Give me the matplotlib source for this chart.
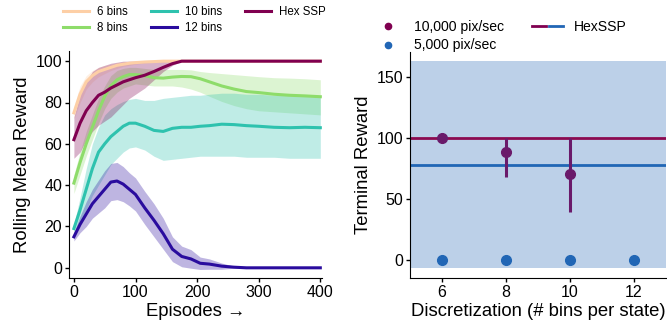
import numpy as np
import matplotlib
matplotlib.use('Agg')
import matplotlib.pyplot as plt
from matplotlib.lines import Line2D
from matplotlib.legend_handler import HandlerTuple

plt.rcParams['font.family'] = ['Liberation Sans', 'DejaVu Sans']

episodes = [0, 10, 20, 30, 40, 50, 60, 70, 80, 90, 100, 115, 130, 145, 160, 175,
            190, 205, 220, 240, 260, 280, 300, 325, 350, 375, 400]

# 6 bins
bins6_mean = [75, 84, 90, 93, 95, 96, 97, 98, 98.5, 99, 99.3, 99.6, 99.8, 100, 100, 100,
              100, 100, 100, 100, 100, 100, 100, 100, 100, 100, 100]
bins6_lo = [72, 80, 86.5, 90, 92.5, 94, 95.5, 96.5, 97.5, 98, 98.6, 99.1, 99.5, 99.8, 100, 100,
            100, 100, 100, 100, 100, 100, 100, 100, 100, 100, 100]
bins6_hi = [78, 88, 93, 95.5, 97, 98, 98.5, 99.3, 99.6, 100, 100, 100, 100, 100, 100, 100,
            100, 100, 100, 100, 100, 100, 100, 100, 100, 100, 100]

# 8 bins
bins8_mean = [41, 51, 60, 68, 76, 83, 88, 91, 92.5, 93.5, 93.5, 93, 92, 91.8, 92.3, 92.6,
              92.5, 91.5, 90, 88, 86.5, 85.3, 84.8, 84, 83.5, 83.2, 82.8]
bins8_lo = [36, 45, 54, 62, 70, 77, 82, 85, 87, 88, 89, 88.5, 88, 88, 88, 87.5,
            86.5, 85, 83, 80.5, 78.5, 77, 76, 75.5, 75, 74.5, 74]
bins8_hi = [45, 56, 66, 74, 82, 88, 93, 95.5, 96.5, 97, 97, 96.5, 96, 96, 96, 96,
            95.8, 95, 94.5, 94, 93.5, 93, 92.5, 92, 91.8, 91.5, 91]

# 10 bins
bins10_mean = [19, 28, 38, 48, 56, 60, 63.5, 66, 68.5, 70, 70, 68.5, 66.5, 66, 67.5, 68,
               68, 68.5, 68.8, 69.5, 69.3, 68.8, 68.5, 68, 67.8, 68, 67.8]
bins10_lo = [17, 22, 28, 35, 40, 45, 50, 53, 56, 58, 58.5, 57, 54, 52, 52.5, 53,
             53.5, 54, 54, 54, 54, 53.5, 53.5, 53.5, 53, 53, 53]
bins10_hi = [21, 34, 48, 60, 68, 74, 77, 79, 80.5, 81.5, 82, 81, 81, 82, 82.5, 83,
             83.5, 83.5, 84, 84.5, 84.5, 84, 84, 83.5, 83.5, 83, 83]

# 12 bins
bins12_mean = [15, 21, 26, 31, 34.5, 38, 41.5, 42, 40.5, 38, 35.5, 29, 23, 16.5, 9, 5.5,
               4.3, 2.2, 1.8, 0.8, 0.3, 0, 0, 0, 0, 0, 0]
bins12_sd = [2, 4, 6, 7, 8, 9, 9, 9, 8.5, 8, 8, 8, 8, 7.5, 6, 5,
             4.5, 3, 2.5, 1.5, 0.5, 0.2, 0, 0, 0, 0, 0]

# Hex SSP
hex_mean = [62, 70, 76, 80, 83.5, 85, 87, 88.5, 90, 91, 92, 93.2, 95, 97, 98.8, 100,
            100, 100, 100, 100, 100, 100, 100, 100, 100, 100, 100]
hex_lo = [53, 56, 62, 66, 69, 71, 73, 76, 79, 82, 84, 87, 91, 95, 98, 100,
          100, 100, 100, 100, 100, 100, 100, 100, 100, 100, 100]
hex_hi = [73, 84, 90, 95, 97, 98, 99, 99.5, 100, 100, 100, 100, 100, 100, 100, 100,
          100, 100, 100, 100, 100, 100, 100, 100, 100, 100, 100]

# terminal reward per discretization
disc_bins = [6, 8, 10, 12]
fast_reward = [100, 88, 70, np.nan]      # 10,000 pix/sec
fast_err_lo = [0, 20, 31, 0]
fast_err_hi = [0, 12, 30, 0]
slow_reward = [0, 0, 0, 0]               # 5,000 pix/sec
hexssp_fast = 100
hexssp_slow = 78
hexssp_slow_sd = 85

ep = np.array(episodes)
fig = plt.figure(figsize=(6.67, 3.28), dpi=100)
ax1 = fig.add_axes([0.1034, 0.152, 0.3796, 0.693])
ax2 = fig.add_axes([0.615, 0.152, 0.383, 0.689])

# left: rolling mean reward curves
series = [
    ('6 bins', bins6_mean, bins6_lo, bins6_hi, '#fdcfa6'),
    ('8 bins', bins8_mean, bins8_lo, bins8_hi, '#8edc6a'),
    ('10 bins', bins10_mean, bins10_lo, bins10_hi, '#2ec2ae'),
    ('12 bins', bins12_mean, np.subtract(bins12_mean, bins12_sd),
     np.add(bins12_mean, bins12_sd), '#2a0c9e'),
    ('Hex SSP', hex_mean, hex_lo, hex_hi, '#800050'),
]
for label, m, lo, hi, c in series:
    ax1.fill_between(ep, lo, hi, color=c, alpha=0.3, linewidth=0)
for label, m, lo, hi, c in series:
    ax1.plot(ep, m, color=c, lw=2.2, label=label)

ax1.set_xlim(-8, 403)
ax1.set_ylim(-5, 105)
ax1.set_xticks([0, 100, 200, 300, 400])
ax1.set_yticks([0, 20, 40, 60, 80, 100])
ax1.set_xlabel('Episodes \u2192', fontsize=13.3, labelpad=2)
ax1.set_ylabel('Rolling Mean Reward', fontsize=13.3, labelpad=3)
fig.legend(*ax1.get_legend_handles_labels(), loc='upper left',
           bbox_to_anchor=(0.0945, 0.982), ncol=3, frameon=False,
           fontsize=8.3, handlelength=2.26, handletextpad=0.7, columnspacing=2.0,
           labelspacing=0.36, borderaxespad=0, borderpad=0)

# right: terminal reward vs discretization
ax2.axhspan(hexssp_slow - hexssp_slow_sd, hexssp_slow + hexssp_slow_sd,
            color='#2166b5', alpha=0.3, lw=0)
ax2.axhline(hexssp_fast, color='#8b0a50', lw=2)
ax2.axhline(hexssp_slow, color='#2166b5', lw=2)
ax2.errorbar(disc_bins, fast_reward, yerr=[fast_err_lo, fast_err_hi], fmt='o',
             color='#6a1a6a', ms=7, elinewidth=2.2, capsize=0)
ax2.plot(disc_bins, slow_reward, 'o', color='#2166b5', ms=7)

ax2.set_xlim(5, 13)
ax2.set_ylim(-15, 170)
ax2.set_xticks([6, 8, 10, 12])
ax2.set_yticks([0, 50, 100, 150])
ax2.set_xlabel('Discretization (# bins per state)', fontsize=13.3, labelpad=2)
ax2.set_ylabel('Terminal Reward', fontsize=13.3, labelpad=3)

h_fast = Line2D([], [], marker='o', ls='', color='#800050', ms=4.5)
h_slow = Line2D([], [], marker='o', ls='', color='#2166b5', ms=4.5)
h_l1 = Line2D([], [], color='#800050', lw=2)
h_l2 = Line2D([], [], color='#2166b5', lw=2)
fig.legend([h_fast, h_slow, (h_l1, h_l2)], ['10,000 pix/sec', '5,000 pix/sec', 'HexSSP'],
           handler_map={tuple: HandlerTuple(ndivide=None, pad=0.15)},
           loc='upper left', bbox_to_anchor=(0.5587, 0.94), ncol=2, frameon=False,
           fontsize=10.1, handlelength=2.2, handletextpad=0.75, columnspacing=2.0,
           labelspacing=0.34, borderaxespad=0, borderpad=0)

for ax in (ax1, ax2):
    ax.spines['top'].set_visible(False)
    ax.spines['right'].set_visible(False)
    ax.tick_params(labelsize=11.5, length=3, width=1, pad=2)

fig.savefig('out.png', dpi=100)
